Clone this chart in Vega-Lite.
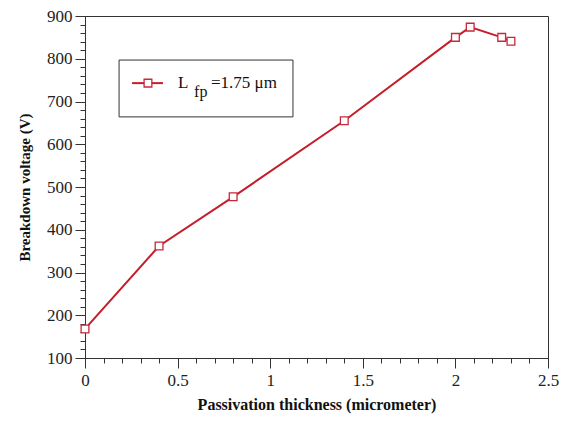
{
  "$schema": "https://vega.github.io/schema/vega-lite/v6.json",
  "autosize": {"type": "none"},
  "padding": {"left": 85, "top": 16, "right": 13, "bottom": 65},
  "width": 463,
  "height": 342,
  "background": "white",
  "data": {"values": [{}]},
  "config": {
    "font": "Liberation Serif, Times New Roman, serif",
    "view": {"stroke": "#333", "strokeWidth": 1},
    "axis": {
      "grid": false,
      "domainColor": "#333",
      "tickColor": "#333",
      "labelColor": "#222",
      "titleColor": "#111",
      "labelFont": "Liberation Serif, Times New Roman, serif",
      "titleFont": "Liberation Serif, Times New Roman, serif",
      "labelFontSize": 17,
      "titleFontSize": 15,
      "titleFontWeight": "bold",
      "labelFlush": false
    }
  },
  "datasets": {
    "series": [
      {"t": 0.0, "v": 168},
      {"t": 0.4, "v": 362},
      {"t": 0.8, "v": 477},
      {"t": 1.4, "v": 655},
      {"t": 2.0, "v": 850},
      {"t": 2.08, "v": 874},
      {"t": 2.25, "v": 850},
      {"t": 2.3, "v": 841}
    ]
  },
  "resolve": {"axis": {"x": "independent", "y": "independent"}},
  "layer": [
    {
      "data": {"name": "series"},
      "mark": {"type": "line", "color": "#c41e2a", "strokeWidth": 2},
      "encoding": {
        "x": {"field": "t", "type": "quantitative",
              "scale": {"domain": [0, 2.5], "nice": false, "zero": false},
              "axis": {"orient": "bottom", "values": [0,0.1,0.2,0.3,0.4,0.5,0.6,0.7,0.8,0.9,1,1.1,1.2,1.3,1.4,1.5,1.6,1.7,1.8,1.9,2,2.1,2.2,2.3,2.4,2.5],
                       "labels": false, "title": null, "tickSize": 5, "domain": false}},
        "y": {"field": "v", "type": "quantitative",
              "scale": {"domain": [100, 900], "nice": false, "zero": false},
              "axis": {"orient": "left", "values": [100,120,140,160,180,200,220,240,260,280,300,320,340,360,380,400,420,440,460,480,500,520,540,560,580,600,620,640,660,680,700,720,740,760,780,800,820,840,860,880,900],
                       "labels": false, "title": null, "tickSize": 5, "domain": false}}
      }
    },
    {
      "data": {"name": "series"},
      "mark": {"type": "point", "shape": "square", "filled": true, "fill": "white", "stroke": "#c8283a", "strokeWidth": 1.3, "size": 60, "opacity": 1},
      "encoding": {
        "x": {"field": "t", "type": "quantitative",
              "axis": {"orient": "bottom", "values": [0, 0.5, 1, 1.5, 2, 2.5], "format": "~g", "tickSize": 10, "labelPadding": 4,
                       "title": "Passivation thickness (micrometer)", "titleFontSize": 16, "titlePadding": 8}},
        "y": {"field": "v", "type": "quantitative",
              "axis": {"orient": "left", "values": [100,200,300,400,500,600,700,800,900], "tickSize": 10, "labelPadding": 3,
                       "title": "Breakdown voltage (V)", "titlePadding": 14}}
      }
    },
    {
      "mark": {"type": "rect", "fill": "white", "stroke": "#333", "strokeWidth": 1},
      "encoding": {
        "x": {"datum": 0.184, "type": "quantitative", "axis": null},
        "x2": {"datum": 1.123},
        "y": {"datum": 797, "type": "quantitative", "axis": null},
        "y2": {"datum": 664}
      }
    },
    {
      "mark": {"type": "rule", "color": "#c41e2a", "strokeWidth": 2},
      "encoding": {
        "x": {"datum": 0.254, "type": "quantitative", "axis": null},
        "x2": {"datum": 0.421},
        "y": {"datum": 743, "type": "quantitative", "axis": null}
      }
    },
    {
      "mark": {"type": "point", "shape": "square", "filled": true, "fill": "white", "stroke": "#c8283a", "strokeWidth": 1.3, "size": 60, "opacity": 1},
      "encoding": {
        "x": {"datum": 0.34, "type": "quantitative", "axis": null},
        "y": {"datum": 743, "type": "quantitative", "axis": null}
      }
    },
    {
      "mark": {"type": "text", "text": "L", "align": "left", "baseline": "middle", "fontSize": 17, "font": "Liberation Serif, Times New Roman, serif", "color": "#111"},
      "encoding": {
        "x": {"datum": 0.502, "type": "quantitative", "axis": null},
        "y": {"datum": 743, "type": "quantitative", "axis": null}
      }
    },
    {
      "mark": {"type": "text", "text": "fp", "align": "left", "baseline": "middle", "fontSize": 16, "font": "Liberation Serif, Times New Roman, serif", "color": "#111"},
      "encoding": {
        "x": {"datum": 0.589, "type": "quantitative", "axis": null},
        "y": {"datum": 722, "type": "quantitative", "axis": null}
      }
    },
    {
      "mark": {"type": "text", "text": "=1.75 μm", "align": "left", "baseline": "middle", "fontSize": 17, "font": "Liberation Serif, Times New Roman, serif", "color": "#111"},
      "encoding": {
        "x": {"datum": 0.68, "type": "quantitative", "axis": null},
        "y": {"datum": 743, "type": "quantitative", "axis": null}
      }
    }
  ]
}
